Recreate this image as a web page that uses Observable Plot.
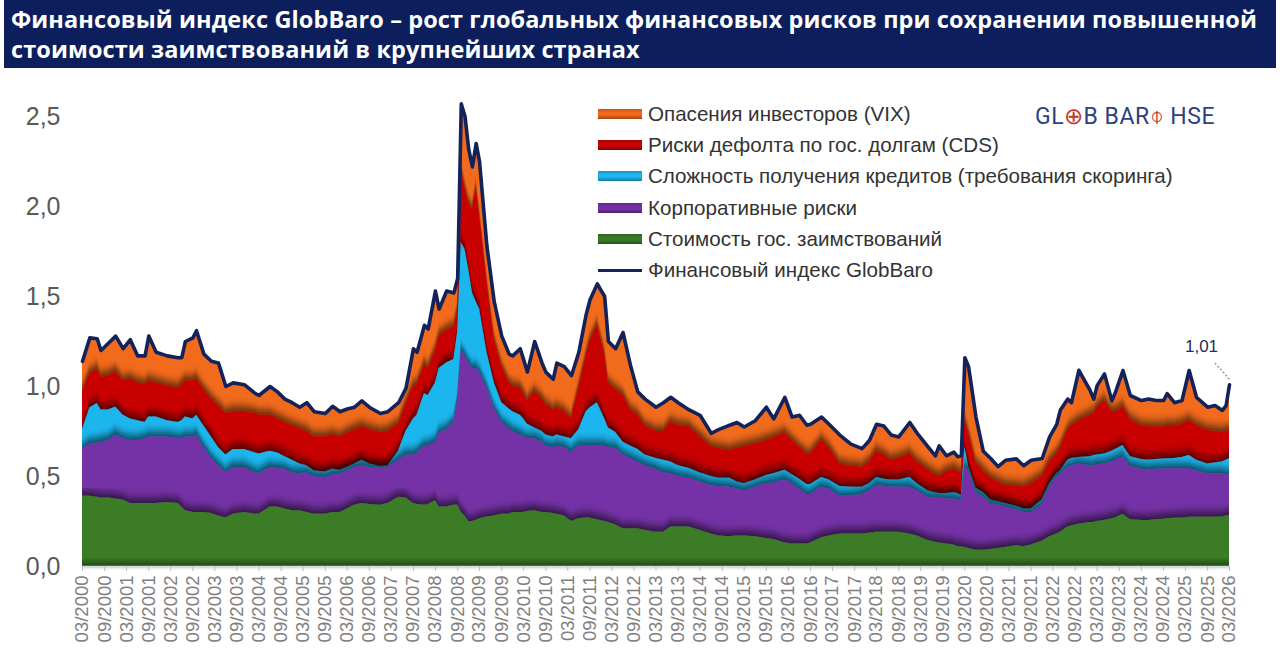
<!DOCTYPE html>
<html><head><meta charset="utf-8">
<script src="https://cdn.jsdelivr.net/npm/d3@7"></script>
<script src="https://cdn.jsdelivr.net/npm/@observablehq/plot@0.6"></script>
<style>
body{margin:0;background:#fff;}
#wrap{position:relative;width:1280px;height:650px;overflow:hidden;font-family:"Liberation Sans",Arial,sans-serif;background:#fff;}
#title{position:absolute;left:4px;top:0;width:1272px;height:68px;background:#0c1f5c;color:#fff;font-family:"Open Sans",sans-serif;font-weight:700;font-size:23.5px;letter-spacing:0.1px;line-height:30px;padding:4px 0 0 7px;box-sizing:border-box;white-space:nowrap;}
#chart{position:absolute;left:0;top:70px;}
#legend{position:absolute;left:598px;top:98px;}
.item{height:31.3px;display:flex;align-items:center;font-size:20.6px;color:#333;white-space:nowrap;}
.sw{width:44px;height:10px;margin-right:6px;}
.ln{width:44px;height:3px;margin-right:6px;background:#14245a;}
#logo{position:absolute;left:1035px;top:103px;font-family:Roboto,"Liberation Sans",sans-serif;font-size:23px;color:#2e3f82;letter-spacing:0.5px;white-space:nowrap;}
#logo .r{color:#c0392b;}
#chart svg g[aria-label="y-axis tick label"]{fill:#595959;}
#chart svg g[aria-label="x-axis tick label"]{fill:#808080;}
</style>
</head><body>
<div id="wrap">
  <div id="title">Финансовый индекс GlobBaro – рост глобальных финансовых рисков при сохранении повышенной<br>стоимости заимствований в крупнейших странах</div>
  <div id="chart"></div>
  <div id="legend"></div>
  <div id="logo">GL<span class="r">⊕</span>B BAR<span class="r">⌽</span> HSE</div>
</div>
<script>
// Dates (month) of the readings
const dates = ["2000-03","2000-05","2000-07","2000-08","2000-10","2000-12","2001-02","2001-04","2001-06","2001-08","2001-09","2001-11",
"2002-02","2002-05","2002-06","2002-07","2002-09","2002-10","2002-12","2003-02","2003-04","2003-06","2003-08","2003-11",
"2004-02","2004-03","2004-06","2004-08","2004-10","2004-12","2005-02","2005-04","2005-06","2005-09","2005-11",
"2006-01","2006-03","2006-05","2006-07","2006-09","2006-12","2007-02","2007-05","2007-07","2007-09","2007-10","2007-12",
"2008-01","2008-03","2008-04","2008-06","2008-08","2008-09","2008-10","2008-11","2008-12",
"2009-01","2009-02","2009-03","2009-05","2009-07","2009-09","2009-11","2009-12",
"2010-02","2010-03","2010-04","2010-06","2010-08","2010-09","2010-11","2010-12",
"2011-02","2011-04","2011-06","2011-08","2011-09","2011-11",
"2012-01","2012-02","2012-04","2012-06","2012-08","2012-10","2012-12",
"2013-03","2013-05","2013-07","2013-09","2013-12",
"2014-03","2014-06","2014-08","2014-11","2015-01","2015-03","2015-06","2015-09","2015-11",
"2016-02","2016-04","2016-06","2016-08","2016-09","2016-12",
"2017-02","2017-05","2017-08","2017-11","2018-01","2018-03","2018-05","2018-07","2018-09","2018-12",
"2019-02","2019-05","2019-07","2019-08","2019-10","2019-12",
"2020-01","2020-02","2020-03","2020-04","2020-06","2020-08","2020-10","2020-12",
"2021-02","2021-05","2021-07","2021-09","2021-12",
"2022-02","2022-04","2022-05","2022-07","2022-08","2022-10",
"2023-01","2023-02","2023-03","2023-05","2023-07","2023-08","2023-10","2023-12",
"2024-03","2024-05","2024-07","2024-09","2024-10","2024-12",
"2025-02","2025-04","2025-06","2025-09","2025-11","2026-01","2026-02","2026-03"];

// Стоимость гос. заимствований (green)
const govBorrowing = [.39,.39,.385,.38,.38,.375,.37,.35,.35,.35,.35,.35,
.355,.35,.33,.31,.30,.30,.30,.295,.28,.27,.29,.30,
.29,.29,.33,.33,.32,.31,.31,.30,.29,.29,.30,
.30,.32,.34,.35,.345,.34,.35,.385,.38,.35,.345,.34,
.345,.365,.33,.33,.34,.34,.30,.28,.25,
.25,.255,.265,.275,.28,.29,.29,.30,
.30,.30,.305,.31,.30,.30,.295,.29,
.28,.25,.265,.27,.27,.26,
.25,.245,.23,.21,.21,.21,.20,
.19,.19,.22,.22,.22,
.20,.18,.17,.165,.17,.17,.165,.155,.15,
.13,.125,.125,.125,.13,.16,
.17,.18,.18,.18,.185,.19,.19,.19,.19,.18,
.17,.145,.135,.13,.125,.12,
.11,.11,.105,.10,.09,.09,.095,.10,
.105,.115,.11,.12,.14,
.165,.18,.19,.22,.225,.235,
.245,.245,.25,.255,.265,.27,.29,.26,
.256,.256,.26,.263,.265,.268,
.27,.274,.274,.274,.274,.275,.28,.283];

// Корпоративные риски (purple)
const corporate = [.26,.29,.30,.31,.32,.355,.34,.35,.35,.36,.37,.37,
.365,.36,.38,.41,.42,.43,.36,.305,.28,.25,.26,.25,
.23,.225,.22,.215,.22,.21,.205,.22,.21,.205,.21,
.215,.21,.21,.21,.205,.205,.20,.205,.24,.27,.285,.33,
.325,.325,.41,.43,.46,.58,.90,.89,.88,
.85,.845,.815,.715,.595,.51,.475,.45,
.43,.42,.405,.40,.39,.37,.365,.38,
.38,.385,.405,.40,.40,.41,
.42,.415,.425,.41,.39,.37,.36,
.35,.33,.295,.28,.27,
.27,.27,.275,.275,.26,.25,.275,.305,.315,
.35,.335,.305,.275,.27,.28,
.26,.21,.21,.22,.235,.26,.255,.25,.25,.26,
.25,.24,.245,.25,.25,.255,
.26,.255,.445,.435,.32,.295,.255,.24,
.225,.20,.19,.18,.20,
.275,.315,.32,.33,.33,.335,
.315,.315,.315,.315,.315,.32,.317,.295,
.284,.279,.28,.277,.278,.275,
.273,.269,.256,.241,.241,.24,.23,.223];

// Сложность получения кредитов (cyan)
const creditAccess = [.11,.20,.22,.18,.17,.155,.13,.12,.11,.09,.11,.11,
.09,.09,.10,.11,.10,.11,.12,.12,.10,.10,.10,.10,
.11,.11,.09,.085,.07,.07,.055,.04,.03,.03,.03,
.02,.02,.02,.03,.02,.01,.01,.05,.13,.20,.21,.29,
.28,.33,.36,.37,.35,.38,.60,.59,.52,
.42,.37,.35,.20,.145,.11,.11,.11,
.11,.10,.08,.06,.06,.06,.06,.06,
.06,.075,.09,.19,.21,.24,
.15,.11,.09,.07,.07,.07,.06,
.06,.07,.065,.06,.055,
.05,.05,.045,.05,.04,.04,.04,.045,.05,
.055,.05,.055,.055,.055,.055,
.05,.055,.05,.04,.04,.045,.04,.04,.04,.055,
.04,.035,.03,.025,.03,.035,
.035,.03,.11,.02,.025,.025,.02,.02,
.02,.02,.02,.02,.03,
.02,.02,.02,.04,.045,.035,
.05,.055,.055,.055,.06,.06,.065,.055,
.055,.055,.055,.057,.055,.057,
.062,.074,.06,.055,.06,.065,.08,.092];

// Риски дефолта по гос. долгам (CDS) (red)
const sovereignCDS = [.21,.19,.19,.18,.19,.195,.19,.22,.21,.21,.20,.19,
.19,.19,.20,.20,.21,.20,.20,.21,.23,.23,.21,.21,
.22,.215,.20,.19,.19,.19,.195,.19,.19,.195,.19,
.185,.19,.19,.185,.19,.19,.19,.15,.15,.18,.17,.16,
.15,.18,.18,.18,.18,.12,.40,.34,.37,
.46,.63,.52,.39,.24,.20,.145,.14,
.15,.14,.13,.20,.18,.17,.15,.15,
.14,.11,.23,.31,.37,.43,
.36,.25,.235,.26,.20,.19,.16,
.15,.16,.22,.225,.23,
.20,.165,.165,.155,.185,.205,.20,.195,.20,
.205,.19,.175,.17,.17,.205,
.18,.125,.115,.11,.12,.145,.135,.11,.12,.13,
.12,.115,.10,.095,.12,.13,
.125,.125,.15,.185,.14,.12,.12,.11,
.10,.11,.12,.14,.13,
.12,.11,.13,.165,.18,.205,
.23,.235,.26,.295,.22,.21,.213,.205,
.185,.185,.18,.178,.182,.18,
.185,.193,.19,.186,.175,.166,.16,.158];

// Опасения инвесторов (VIX) (orange)
const investorFear = [.17,.20,.17,.15,.18,.20,.18,.22,.15,.16,.25,.17,
.17,.17,.15,.22,.24,.27,.20,.21,.24,.15,.16,.15,
.11,.11,.16,.15,.13,.13,.12,.16,.14,.13,.16,
.14,.135,.125,.145,.125,.105,.11,.12,.09,.21,.18,.22,
.22,.33,.15,.22,.19,.18,.37,.40,.30,
.24,.25,.30,.20,.21,.17,.16,.17,
.22,.19,.16,.28,.20,.18,.17,.25,
.25,.24,.20,.23,.23,.23,
.32,.23,.23,.35,.25,.13,.15,
.135,.16,.14,.125,.095,
.12,.075,.105,.14,.145,.11,.13,.185,.105,
.20,.13,.18,.16,.165,.13,
.13,.16,.125,.105,.12,.15,.16,.14,.12,.175,
.16,.13,.105,.17,.09,.095,
.08,.095,.35,.37,.255,.11,.11,.085,
.14,.153,.12,.13,.10,
.14,.165,.21,.175,.13,.28,
.14,.08,.125,.15,.06,.11,.204,.135,
.142,.155,.147,.147,.18,.13,
.132,.279,.16,.129,.144,.121,.144,.254];

const seriesNames = ["Опасения инвесторов (VIX)","Риски дефолта по гос. долгам (CDS)","Сложность получения кредитов (требования скоринга)","Корпоративные риски","Стоимость гос. заимствований"];
const indexName = "Финансовый индекс GlobBaro";
const seriesColors = ["#f26a1b","#c80404","#1fb6ee","#7432a6","#3b7a27"];
const yTicks = [0,0.5,1,1.5,2,2.5];

const parse = s => new Date(Date.UTC(+s.slice(0,4), +s.slice(5,7)-1, 1));
// components from bottom to top
const comps = [govBorrowing, corporate, creditAccess, sovereignCDS, investorFear];
const rows = dates.map((s,i) => {
  let c = 0; const cum = comps.map(a => (c += a[i]));
  return {date: parse(s), cum, total: cum[4]};
});
const last = rows[rows.length-1];
const xTicks = d3.utcMonth.range(parse("2000-03"), new Date(Date.UTC(2026,2,2)), 6);

// areas drawn from the top layer (cumulative total) down to the bottom layer
const layerColorsBottomUp = seriesColors.slice().reverse();
const areaMarks = [4,3,2,1,0].map(k =>
  Plot.areaY(rows, {x: "date", y1: 0, y2: d => d.cum[k], fill: layerColorsBottomUp[k]})
);

const plot = Plot.plot({
  width: 1280, height: 580,
  marginLeft: 82, marginRight: 51, marginTop: 28, marginBottom: 84,
  style: {fontFamily: "'Liberation Sans', Arial, sans-serif", background: "transparent", overflow: "visible"},
  x: {type: "utc", domain: [parse("2000-03"), parse("2026-03")]},
  y: {domain: [0, 2.6]},
  marks: [
    ...areaMarks,
    Plot.ruleY([0], {stroke: "#d9d9d9", strokeWidth: 1.5}),
    Plot.line(rows, {x: "date", y: "total", stroke: "#13235a", strokeWidth: 3.6, strokeLinejoin: "round"}),
    Plot.link([last], {x1: "date", y1: d => d.total + 0.03, x2: d => d3.utcMonth.offset(d.date, -4), y2: d => d.total + 0.12, stroke: "#9a9a9a", strokeWidth: 1.5, strokeDasharray: "2,2"}),
    Plot.text([last], {x: "date", y: "total", text: d => d.total.toFixed(2).replace(".", ","), dx: -28, dy: -38, fontSize: 17, fill: "#1f2d5a"}),
    Plot.axisX({ticks: xTicks, tickFormat: d3.utcFormat("%m/%Y"), tickRotate: -90, tickSize: 5, tickPadding: 4, stroke: "#bfbfbf", fontSize: 18.5, label: null}),
    Plot.axisY({ticks: yTicks, tickFormat: d => d.toFixed(1).replace(".", ","), tickSize: 0, tickPadding: 22, fontSize: 25, label: null})
  ]
});
document.getElementById("chart").appendChild(plot);

// shading: each lower layer casts a soft shadow upwards on the layer above
const svg = d3.select(plot);
const defs = svg.insert("defs", ":first-child");
const f = defs.append("filter").attr("id", "shade").attr("x", "0").attr("y", "-10%").attr("width", "100%").attr("height", "120%");
f.append("feGaussianBlur").attr("in", "SourceAlpha").attr("stdDeviation", "0 4").attr("result", "b");
f.append("feOffset").attr("in", "b").attr("dy", -5).attr("result", "o");
f.append("feComponentTransfer").attr("in", "o").attr("result", "s").append("feFuncA").attr("type", "linear").attr("slope", 0.6);
const mg = f.append("feMerge"); mg.append("feMergeNode").attr("in", "s"); mg.append("feMergeNode").attr("in", "SourceGraphic");
const gg = defs.append("linearGradient").attr("id", "gGrad").attr("x1", 0).attr("y1", 0).attr("x2", 0).attr("y2", 1);
gg.append("stop").attr("offset", "0%").attr("stop-color", "#3d7d28");
gg.append("stop").attr("offset", "88%").attr("stop-color", "#3b7a27");
gg.append("stop").attr("offset", "100%").attr("stop-color", "#1f4a14");
const areas = svg.selectAll('g[aria-label="area"]').nodes();
areas.slice(1).forEach(n => d3.select(n).attr("filter", "url(#shade)"));
d3.select(areas[4]).attr("fill", "url(#gGrad)").selectAll("path").attr("fill", null);

// legend
const legend = d3.select("#legend");
seriesNames.forEach((name, i) => {
  const it = legend.append("div").attr("class", "item");
  const c = seriesColors[i];
  it.append("div").attr("class", "sw").style("background", `linear-gradient(to bottom, ${d3.color(c).darker(0.6)}, ${c} 35%, ${c} 60%, ${d3.color(c).darker(1.2)})`);
  it.append("span").text(name);
});
const li = legend.append("div").attr("class", "item");
li.append("div").attr("class", "ln");
li.append("span").text(indexName);
</script>
</body></html>
